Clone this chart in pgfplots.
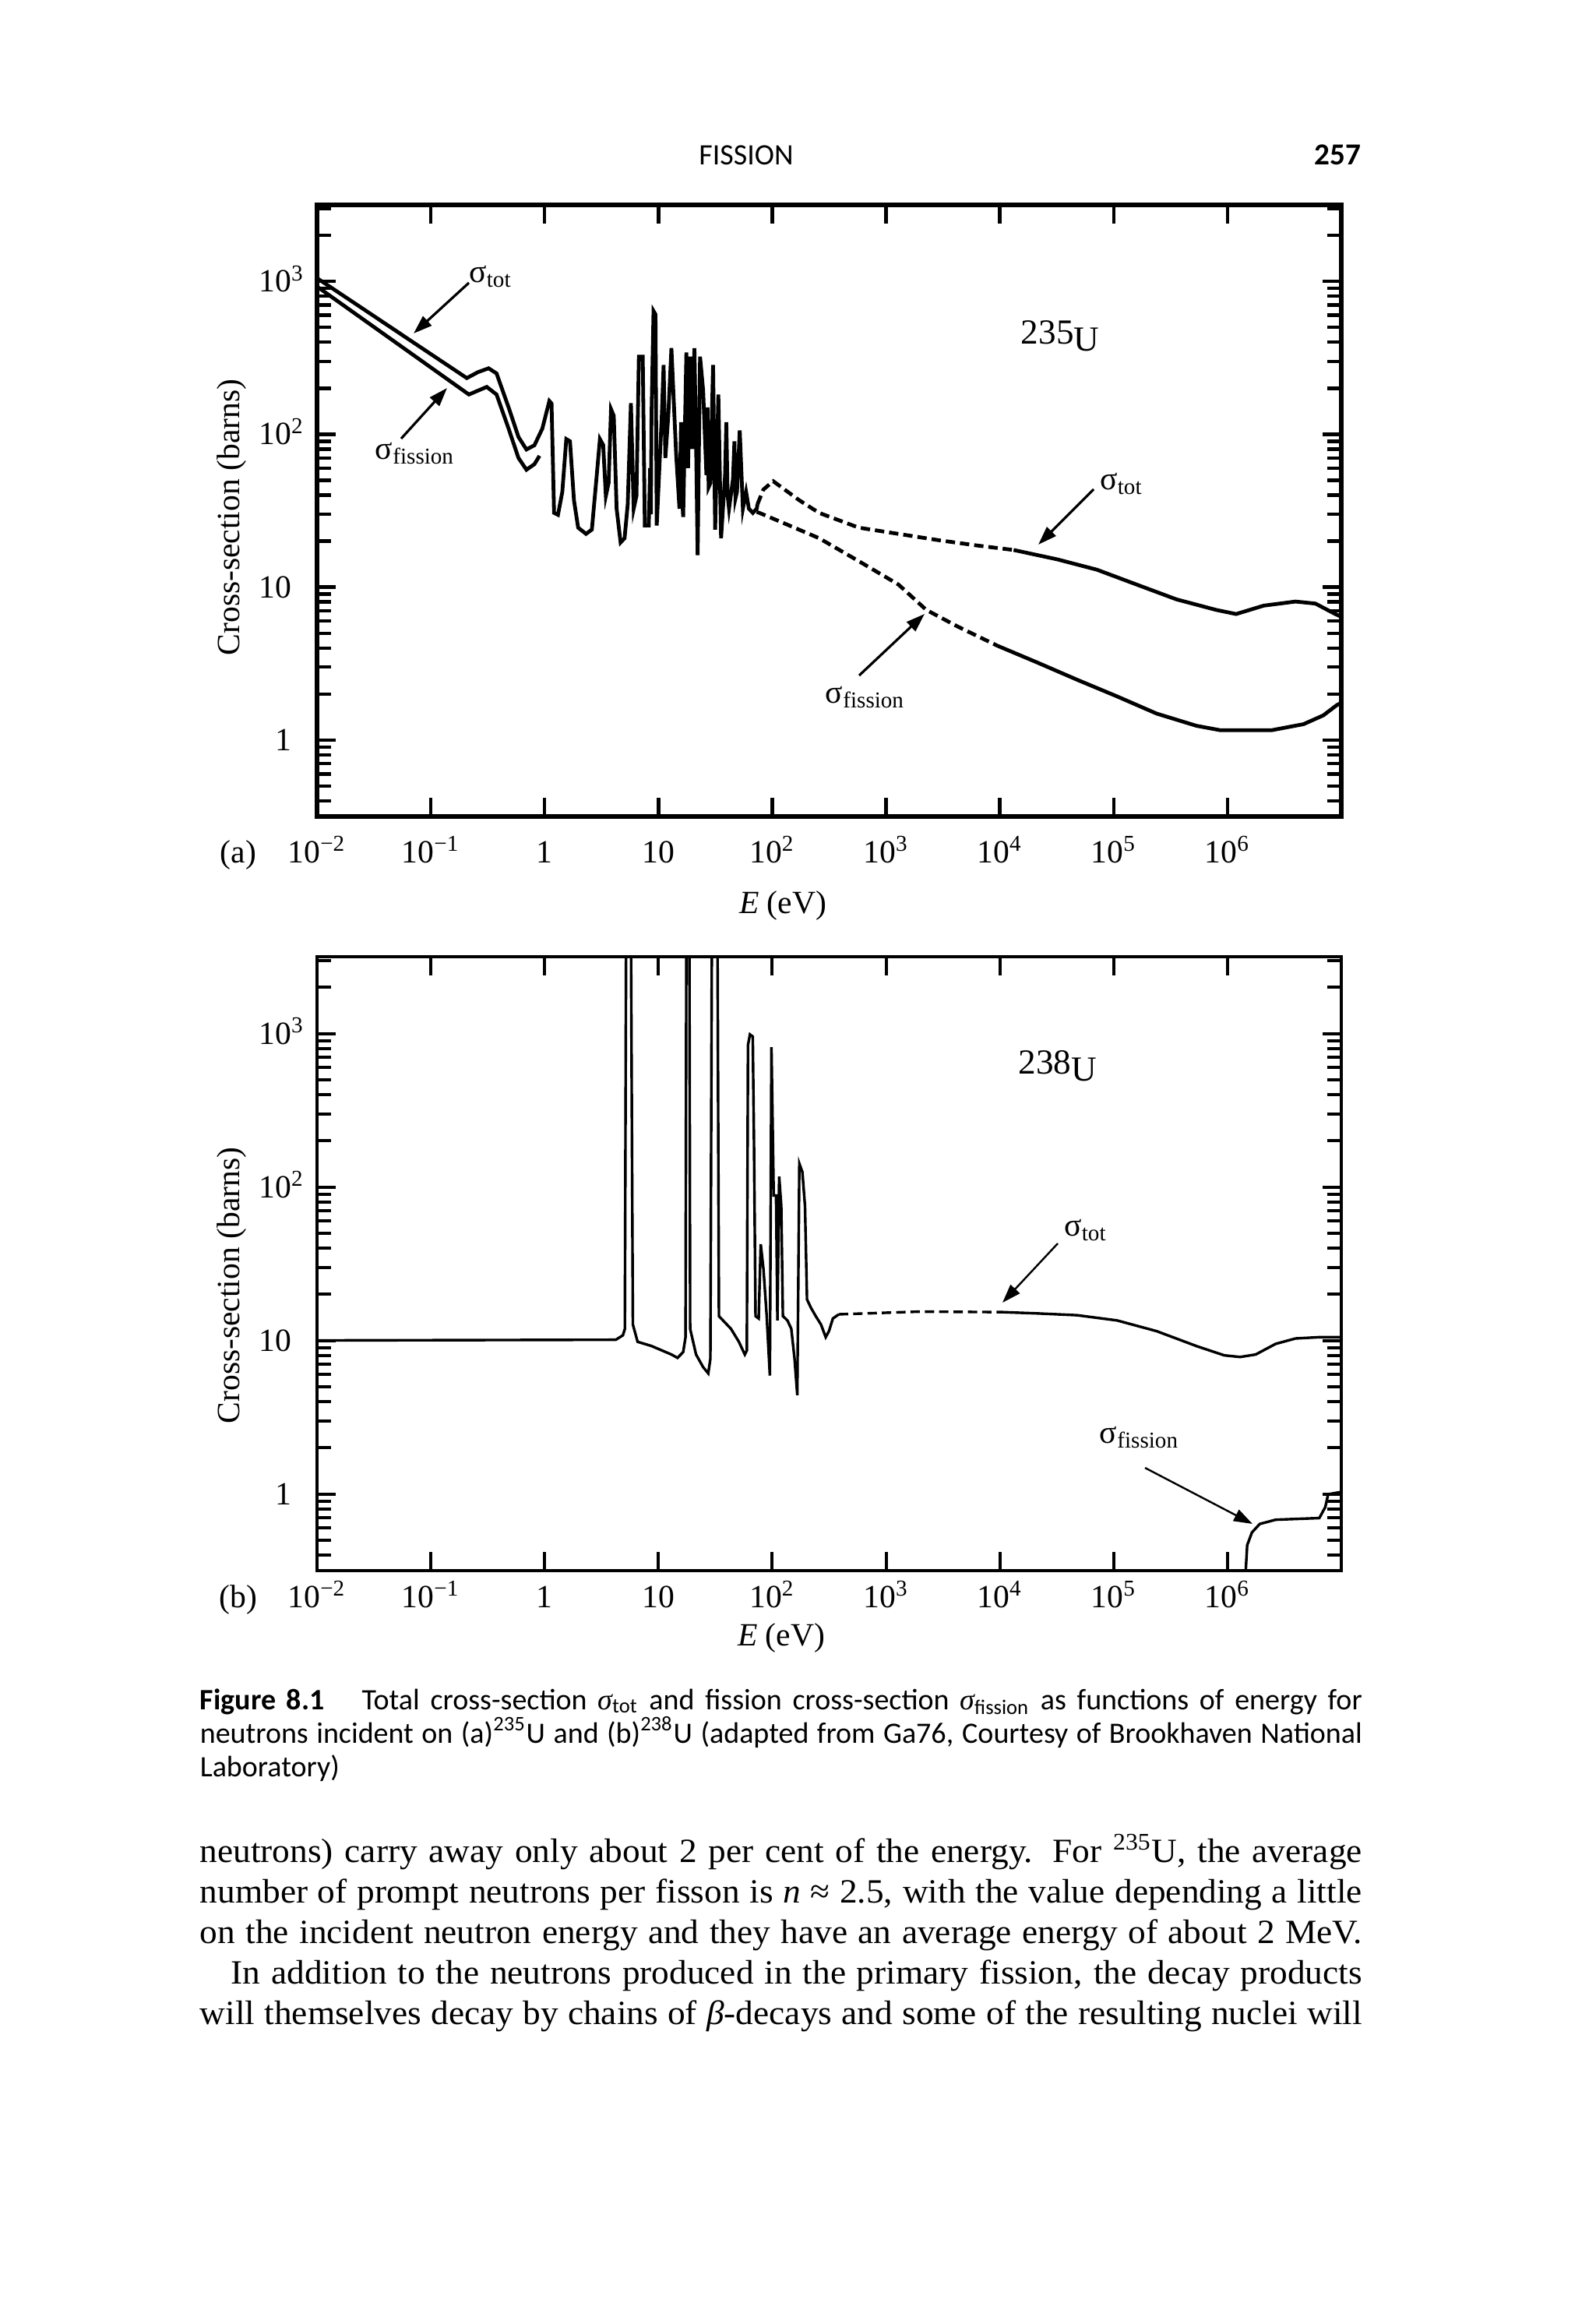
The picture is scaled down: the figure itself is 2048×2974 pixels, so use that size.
\documentclass[border=0pt]{standalone}
\usepackage{fontspec}
\setmainfont{Liberation Serif}
\newfontfamily\capfont{Carlito}
\newfontfamily\bodyrm{Liberation Serif}[FakeStretch=1.04]
\usepackage{pgfplots}
\pgfplotsset{compat=1.18}
\usetikzlibrary{arrows.meta}
\newcommand\plotfont{\fontsize{10.4}{12}\selectfont}
\newcommand\bodyfont{\bodyrm\fontsize{10.9}{13}\selectfont}
\newcommand\cfont{\capfont\fontsize{9.5}{11}\selectfont}
\begin{document}
\begin{tikzpicture}
\begin{scope}[x=0.25pt,y=-0.25pt]
\fill[white] (0,0) rectangle (2048,2974);
\end{scope}

% ---------------- (a) 235U ----------------
\begin{axis}[xmode=log, ymode=log, scale only axis,
  width=328.75pt, height=196.25pt,
  at={(101.75pt,-262pt)}, anchor=south west,
  xmin=1e-2, xmax=1e7, ymin=0.31623, ymax=3162.3,
  xtick={1e-2,1e-1,1,10,100,1e3,1e4,1e5,1e6},
  xticklabels={10\textsuperscript{−2},10\textsuperscript{−1},1,10,10\textsuperscript{2},10\textsuperscript{3},10\textsuperscript{4},10\textsuperscript{5},10\textsuperscript{6}},
  xminorticks=false,
  ytick={1,10,100,1000},
  yticklabels={1,10,10\rlap{\textsuperscript{2}},10\rlap{\textsuperscript{3}}},
  minor ytick={0.4,0.5,0.6,0.7,0.8,0.9,2,3,4,5,6,7,8,9,20,30,40,50,60,70,80,90,200,300,400,500,600,700,800,900,2000,3000},
  tick align=inside,
  major tick length=6pt, minor tick length=4.5pt,
  every tick/.append style={black, line width=1.1pt},
  every x tick label/.append style={anchor=base, inner sep=0pt, font=\plotfont, yshift=-14.75pt},
  every y tick label/.append style={anchor=base east, inner sep=0pt, xshift=-8pt, yshift=-3.4pt, font=\plotfont},
  xtick pos=both, ytick pos=both,
  xticklabel pos=bottom, yticklabel pos=left,
  axis line style={line width=1.3pt}]
\addplot[black, line width=1.2pt] coordinates {
(0.01,1050) (0.207,233) (0.26,255) (0.322,270) (0.378,250) (0.482,150) (0.589,96) (0.692,79.5) (0.813,84.7) (0.955,109) (1.10,165) (1.15,159) (1.21,30.6) (1.31,29.7) (1.43,42) (1.55,93) (1.67,90) (1.81,37) (1.97,24.5) (2.31,22.3) (2.60,23.8) (2.87,54) (3.06,93) (3.27,85) (3.45,39.5) (3.65,48) (3.83,146) (4.05,132) (4.29,32.6) (4.65,19.6) (5.04,20.9) (5.37,34.8) (5.73,160) (6.06,32.6) (6.41,39.5) (6.73,322) (7.28,322) (7.59,25.3) (8.22,25.3) (8.45,60) (8.58,30) (8.69,132) (9.05,640) (9.42,608) (9.66,25.3) (10.2,61.6) (10.7,132) (11.1,284) (11.5,70) (12.2,132) (13.0,366) (13.5,194) (14.3,74.6) (15.3,32.6) (15.8,120) (16.1,40) (16.5,28.8) (17.6,343) (18.2,60) (19.1,322) (19.8,80) (20.7,366) (21.4,90) (22.1,16.2) (23.2,322) (24.7,194) (26.4,54) (27.0,150) (27.6,45) (28.6,47.8) (30.2,284) (31.5,23.8) (33.6,182) (35.5,20.9) (38.5,54) (39.5,120) (40.5,40) (41.7,32.6) (45.2,51) (46.5,90) (47.5,38) (49.0,42) (51.8,106) (55.2,32.6) (58.9,42) (62.3,32.6) (67.5,30.6) (73.1,32.6) (74.1,34.8)};
\addplot[black, line width=1.2pt, dash pattern=on 3pt off 1.6pt] coordinates {
(74.1,34.8) (83.6,43.5) (102,49.3) (172,37.1) (258,30.6) (575,24.5) (1285,22.3) (2870,20.3) (6400,18.7) (13200,17.5)};
\addplot[black, line width=1.2pt] coordinates {
(13200,17.5) (31900,15.2) (71300,13.0) (1.59e5,10.4) (3.56e5,8.32) (7.94e5,7.10) (1.19e6,6.67) (2.08e6,7.57) (3.96e6,8.05) (5.92e6,7.81) (8.85e6,6.67) (1e7,6.4)};
\addplot[black, line width=1.2pt] coordinates {
(0.01,925) (0.216,182) (0.310,204) (0.378,182) (0.482,109) (0.589,70) (0.692,58.6) (0.813,63.7) (0.902,72.3)};
\addplot[black, line width=1.2pt, dash pattern=on 3pt off 1.6pt] coordinates {
(73,31) (77.1,30.6) (115,27.0) (258,20.9) (575,14.8) (1285,10.4) (2255,7.10) (4290,5.51) (9570,4.13)};
\addplot[black, line width=1.2pt] coordinates {
(9570,4.13) (21400,3.21) (47700,2.48) (1.07e5,1.93) (2.38e5,1.49) (5.32e5,1.24) (8.61e5,1.16) (2.45e6,1.16) (4.66e6,1.27) (6.95e6,1.45) (9.21e6,1.70) (1e7,1.75)};
\end{axis}

% ---------------- (b) 238U ----------------
\begin{axis}[xmode=log, ymode=log, scale only axis,
  width=328.75pt, height=197pt,
  at={(101.75pt,-504pt)}, anchor=south west,
  xmin=1e-2, xmax=1e7, ymin=0.31623, ymax=3162.3,
  xtick={1e-2,1e-1,1,10,100,1e3,1e4,1e5,1e6},
  xticklabels={10\textsuperscript{−2},10\textsuperscript{−1},1,10,10\textsuperscript{2},10\textsuperscript{3},10\textsuperscript{4},10\textsuperscript{5},10\textsuperscript{6}},
  xminorticks=false,
  ytick={1,10,100,1000},
  yticklabels={1,10,10\rlap{\textsuperscript{2}},10\rlap{\textsuperscript{3}}},
  minor ytick={0.4,0.5,0.6,0.7,0.8,0.9,2,3,4,5,6,7,8,9,20,30,40,50,60,70,80,90,200,300,400,500,600,700,800,900,2000,3000},
  tick align=inside,
  major tick length=6pt, minor tick length=4.5pt,
  every tick/.append style={black, line width=1.0pt},
  every x tick label/.append style={anchor=base, inner sep=0pt, font=\plotfont, yshift=-11.75pt},
  every y tick label/.append style={anchor=base east, inner sep=0pt, xshift=-8pt, yshift=-3.4pt, font=\plotfont},
  xtick pos=both, ytick pos=both,
  xticklabel pos=bottom, yticklabel pos=left,
  axis line style={line width=1.0pt}]
\addplot[black, line width=0.85pt] coordinates {
(0.01,10) (4.22,10.1) (4.87,10.8) (5.07,11.9) (5.2,5000) (5.73,5000) (5.96,12.7) (6.56,9.8) (8.69,9.2) (13.0,8.1) (14.7,7.7) (16.5,8.4) (17.3,10.5) (17.6,5000) (18.7,5000) (19.0,11.9) (21.4,8.1) (24.7,6.7) (27.4,6.1) (28.6,7.6) (29.5,5000) (33.0,5000) (34.0,14.4) (43.4,11.9) (50.9,9.8) (57.4,8.1) (59.8,8.6) (61.2,841) (63.7,986) (67.4,955) (69.1,195) (71.3,14.4) (76.0,13.9) (79.2,42.4) (83.8,28.9) (89.4,14.4) (95.3,5.9) (98.4,815) (103,88.1) (108,88) (111,13.5) (115,117) (120,75) (124,14.4) (136,13.5) (147,11.9) (157,7.6) (166,4.4) (173,142) (184,125) (194,75) (202,18.5) (219,16.3) (241,14.4) (268,12.7) (295,10.5) (315,11.5) (341,13.9) (385,14.8)};
\addplot[black, line width=0.85pt, dash pattern=on 3pt off 1.6pt] coordinates {
(385,14.8) (1920,15.4) (10400,15.3)};
\addplot[black, line width=0.85pt] coordinates {
(10400,15.3) (21400,15.0) (47700,14.6) (1.07e5,13.5) (2.38e5,11.5) (5.32e5,9.2) (9.33e5,8.0) (1.29e6,7.8) (1.77e6,8.1) (2.65e6,9.5) (3.96e6,10.3) (6.41e6,10.5) (1e7,10.5)};
\addplot[black, line width=0.85pt] coordinates {
(1.42e6,0.25) (1.49e6,0.464) (1.64e6,0.561) (1.92e6,0.637) (2.65e6,0.679) (6.41e6,0.696) (7.24e6,0.822) (7.66e6,0.995) (1e7,1.03)};
\end{axis}

\begin{scope}[x=0.25pt,y=-0.25pt]
% header
\node[anchor=base, inner sep=0] at (958,212) {\capfont\fontsize{9.5}{11}\selectfont FISSION};
\node[anchor=base east, inner sep=0] at (1748,212) {\capfont\bfseries\fontsize{9.8}{11}\selectfont 257};
% (a) labels
\node[anchor=base, inner sep=0] at (306,1107) {\plotfont (a)};
\node[anchor=base, inner sep=0] at (1005,1172) {\plotfont \textit{E} (eV)};
\node[rotate=90, inner sep=0] at (297,664) {\plotfont Cross-section (barns)};
\node[inner sep=0] at (630,355) {\plotfont σ\textsubscript{tot}};
\node[inner sep=0] at (533,582) {\plotfont σ\textsubscript{fission}};
\node[inner sep=0] at (1361,431) {\fontsize{11.3}{13}\selectfont 235\raisebox{-0.45ex}{U}};
\node[inner sep=0] at (1440,621) {\plotfont σ\textsubscript{tot}};
\node[inner sep=0] at (1111,895) {\plotfont σ\textsubscript{fission}};
\draw[line width=0.8pt, -{Triangle[length=6pt,width=4pt]}] (602,363) -- (531,428);
\draw[line width=0.8pt, -{Triangle[length=6pt,width=4pt]}] (515,563) -- (574,498);
\draw[line width=0.8pt, -{Triangle[length=6pt,width=4pt]}] (1404,628) -- (1333,699);
\draw[line width=0.8pt, -{Triangle[length=6pt,width=4pt]}] (1103,867) -- (1187,788);
% (b) labels
\node[anchor=base, inner sep=0] at (306,2063) {\plotfont (b)};
\node[anchor=base, inner sep=0] at (1003,2112) {\plotfont \textit{E} (eV)};
\node[rotate=90, inner sep=0] at (297,1650) {\plotfont Cross-section (barns)};
\node[inner sep=0] at (1358,1368) {\fontsize{11.3}{13}\selectfont 238\raisebox{-0.45ex}{U}};
\node[inner sep=0] at (1394,1579) {\plotfont σ\textsubscript{tot}};
\node[inner sep=0] at (1463,1845) {\plotfont σ\textsubscript{fission}};
\draw[line width=0.6pt, -{Triangle[length=6pt,width=4pt]}] (1358,1596) -- (1287,1672);
\draw[line width=0.6pt, -{Triangle[length=6pt,width=4pt]}] (1470,1884) -- (1608,1956);
% caption
\node[anchor=base west, inner sep=0] at (256,2194) {\cfont\makebox[373pt][s]{\textbf{Figure 8.1}\hspace{0.9em} Total cross-section {\rmfamily\itshape σ}\textsubscript{tot} and fission cross-section {\rmfamily\itshape σ}\textsubscript{fission} as functions of energy for}};
\node[anchor=base west, inner sep=0] at (256,2237) {\cfont\makebox[373pt][s]{neutrons incident on (a)\textsuperscript{235}U and (b)\textsuperscript{238}U (adapted from Ga76, Courtesy of Brookhaven National}};
\node[anchor=base west, inner sep=0] at (256,2280) {\cfont Laboratory)};
% body text
\node[anchor=base west, inner sep=0] at (256,2390) {\bodyfont\makebox[373pt][s]{neutrons) carry away only about 2 per cent of the energy. For \textsuperscript{235}U, the average}};
\node[anchor=base west, inner sep=0] at (256,2442) {\bodyfont\makebox[373pt][s]{number of prompt neutrons per fisson is \textit{n} ≈ 2.5, with the value depending a little}};
\node[anchor=base west, inner sep=0] at (256,2494) {\bodyfont\makebox[373pt][s]{on the incident neutron energy and they have an average energy of about 2 MeV.}};
\node[anchor=base west, inner sep=0] at (296,2546) {\bodyfont\makebox[363pt][s]{In addition to the neutrons produced in the primary fission, the decay products}};
\node[anchor=base west, inner sep=0] at (256,2598) {\bodyfont\makebox[373pt][s]{will themselves decay by chains of \textit{β}-decays and some of the resulting nuclei will}};
\end{scope}
\end{tikzpicture}
\end{document}
